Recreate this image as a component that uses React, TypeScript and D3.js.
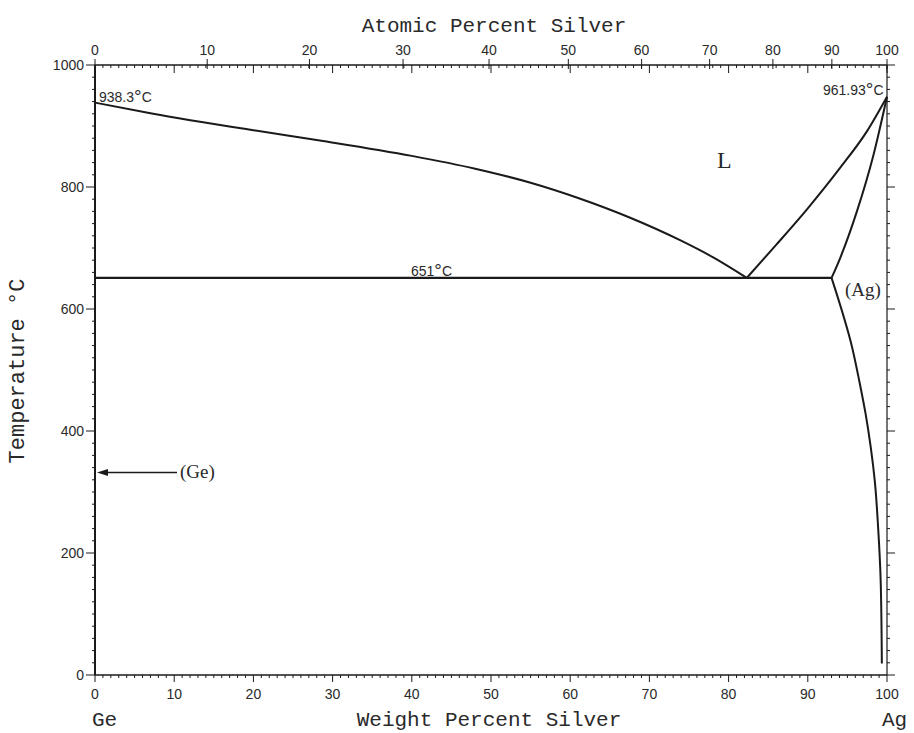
import React from "react";
import * as d3 from "d3";

// ---- data (weight % Ag, temperature °C) ----
const liquidusGe: [number, number][] = [
  [0, 938.3], [7, 921], [20, 893], [29, 875], [40, 851], [48, 830],
  [55, 807], [61, 782], [67.5, 750], [74, 712], [78, 685], [82.3, 651],
];
const liquidusAg: [number, number][] = [
  [82.3, 651], [86, 705], [90, 765], [94, 830], [97.5, 892], [100, 948],
];
const solidusAg: [number, number][] = [
  [93.0, 651], [94.1, 684], [96.2, 760], [98.3, 853], [100, 948],
];
const solvusAg: [number, number][] = [
  [93.0, 651], [95.6, 537], [96.5, 482], [97.3, 428], [97.95, 373], [98.45, 319],
  [98.9, 237], [99.2, 155], [99.35, 19],
];
const eutecticLine: [number, number][] = [[0, 651], [93.0, 651]];
const geArrowTemp = 332;

const wtTicks = [0, 10, 20, 30, 40, 50, 60, 70, 80, 90, 100];
const atTicks = [0, 10, 20, 30, 40, 50, 60, 70, 80, 90, 100];
const tempTicks = [0, 200, 400, 600, 800, 1000];

const M_AG = 107.87;
const M_GE = 72.63;
const atToWt = (a: number) => (a * M_AG) / (a * M_AG + (100 - a) * M_GE) * 100;

const W = 914;
const H = 733;
const x = d3.scaleLinear().domain([0, 100]).range([95, 887]);
const y = d3.scaleLinear().domain([0, 1000]).range([675, 65]);

const lineX = d3
  .line<[number, number]>()
  .x((d) => x(d[0]))
  .y((d) => y(d[1]))
  .curve(d3.curveMonotoneX);
const lineY = d3
  .line<[number, number]>()
  .x((d) => x(d[0]))
  .y((d) => y(d[1]))
  .curve(d3.curveMonotoneY);
const straight = d3
  .line<[number, number]>()
  .x((d) => x(d[0]))
  .y((d) => y(d[1]));

const mono = "'Liberation Mono', 'DejaVu Sans Mono', monospace";
const sans = "'Liberation Sans', Arial, sans-serif";
const serif = "'Liberation Serif', 'Times New Roman', serif";
const ink = "#1a1a1a";
const textInk = "#2a2a2a";

function Deg({ x: px, y: py, value }: { x: number; y: number; value: string }) {
  return (
    <text x={px} y={py}>
      {value}
      <tspan fontSize={19} dy={1}>°</tspan>
      <tspan dy={-1}>C</tspan>
    </text>
  );
}

export default function App() {
  const minorWt = d3.range(0, 101, 1);
  const minorT = d3.range(0, 1001, 20);
  const x0 = x(0), x1 = x(100), y0 = y(0), y1 = y(1000);
  return (
    <svg
      width={W}
      height={H}
      style={{ position: "absolute", left: 0, top: 0, background: "#fff" }}
    >
      <rect x={0} y={0} width={W} height={H} fill="#fff" />
      {/* frame */}
      <g stroke={ink} strokeWidth={1.7} fill="none">
        <line x1={x0} y1={y0} x2={x1} y2={y0} />
        <line x1={x0} y1={y1} x2={x1} y2={y1} />
        <line x1={x0} y1={y0} x2={x0} y2={y1} strokeWidth={2} />
        <line x1={x1} y1={y0} x2={x1} y2={y1} strokeWidth={1.2} />
      </g>
      {/* ticks */}
      <g stroke={ink} strokeWidth={1}>
        {minorWt.map((v) => (
          <line key={"bw" + v} x1={x(v)} x2={x(v)} y1={y0} y2={y0 + (v % 10 === 0 ? 7 : 3)} />
        ))}
        {minorWt.map((v) => (
          <line key={"tw" + v} x1={x(v)} x2={x(v)} y1={y1} y2={y1 + (v % 10 === 0 ? 8 : 3)} />
        ))}
        {atTicks.map((a) => (
          <line key={"ta" + a} x1={x(atToWt(a))} x2={x(atToWt(a))} y1={y1 - 6} y2={y1 + 4} />
        ))}
        {minorT.map((t) => (
          <line key={"lt" + t} x1={x0} x2={x0 - (t % 200 === 0 ? 9 : 3)} y1={y(t)} y2={y(t)} />
        ))}
        {minorT.map((t) => (
          <line key={"rt" + t} x1={x1} x2={x1 + (t % 200 === 0 ? 8 : 3)} y1={y(t)} y2={y(t)} />
        ))}
      </g>
      {/* tick labels */}
      <g fill={textInk} fontFamily={sans} fontSize={14}>
        {wtTicks.map((v) => (
          <text key={"bl" + v} x={x(v)} y={699} textAnchor="middle">{v}</text>
        ))}
        {atTicks.map((a) => (
          <text key={"tl" + a} x={x(atToWt(a))} y={55} textAnchor="middle">{a}</text>
        ))}
        {tempTicks.map((t) => (
          <text key={"ll" + t} x={84} y={y(t)} dy="0.36em" textAnchor="end">{t}</text>
        ))}
      </g>
      {/* axis titles */}
      <g fill={textInk} fontFamily={mono} fontSize={21}>
        <text x={494} y={32} textAnchor="middle">Atomic Percent Silver</text>
        <text x={489} y={726} textAnchor="middle">Weight Percent Silver</text>
        <text x={92} y={726}>Ge</text>
        <text x={882} y={726}>Ag</text>
        <text transform="translate(24,371) rotate(-90)" textAnchor="middle" fontSize={22}>
          Temperature °C
        </text>
      </g>
      {/* phase boundaries */}
      <g stroke={ink} strokeWidth={2} fill="none" strokeLinejoin="round">
        <path d={lineX(liquidusGe) || ""} />
        <path d={lineX(liquidusAg) || ""} />
        <path d={lineX(solidusAg) || ""} />
        <path d={lineY(solvusAg) || ""} />
        <path d={straight(eutecticLine) || ""} strokeWidth={2.3} />
      </g>
      {/* (Ge) arrow */}
      <g stroke={ink} strokeWidth={1.4}>
        <line x1={x(0) + 8} x2={177} y1={y(geArrowTemp)} y2={y(geArrowTemp)} />
      </g>
      <path d={`M${x(0) + 2},${y(geArrowTemp)} l11,-3.5 l0,7 z`} fill={ink} />
      {/* annotations */}
      <g fill={textInk} fontFamily={sans} fontSize={14}>
        <Deg x={99} y={102} value="938.3" />
        <Deg x={823} y={95} value="961.93" />
        <Deg x={411} y={276} value="651" />
      </g>
      <g fill={textInk} fontFamily={serif}>
        <text x={717} y={168} fontSize={24}>L</text>
        <text x={845} y={296} fontSize={19}>(Ag)</text>
        <text x={180} y={478} fontSize={19}>(Ge)</text>
      </g>
    </svg>
  );
}
